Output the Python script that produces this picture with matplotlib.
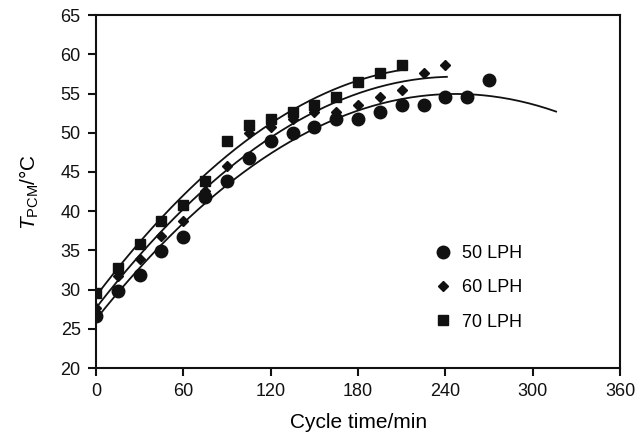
import numpy as np
import matplotlib
matplotlib.use("Agg")
import matplotlib.pyplot as plt

plt.rcParams['font.family'] = ['Liberation Sans', 'DejaVu Sans']
plt.rcParams['mathtext.fontset'] = 'custom'
plt.rcParams['mathtext.rm'] = 'Liberation Sans'
plt.rcParams['mathtext.it'] = 'Liberation Sans:italic'

# Data
t50 = [0, 15, 30, 45, 60, 75, 90, 105, 120, 135, 150, 165, 180, 195, 210, 225, 240, 255, 270]
T50 = [26.7, 29.8, 31.9, 34.9, 36.7, 41.8, 43.9, 46.8, 49.0, 50.0, 50.8, 51.7, 51.7, 52.6, 53.6, 53.6, 54.6, 54.6, 56.7]
t60 = [0, 15, 30, 45, 60, 75, 90, 105, 120, 135, 150, 165, 180, 195, 210, 225, 240]
T60 = [27.7, 31.7, 33.9, 36.9, 38.7, 42.6, 45.8, 50.0, 50.8, 51.8, 52.7, 52.7, 53.5, 54.6, 55.5, 57.6, 58.6]
t70 = [0, 15, 30, 45, 60, 75, 90, 105, 120, 135, 150, 165, 180, 195, 210]
T70 = [29.6, 32.8, 35.8, 38.7, 40.8, 43.8, 48.9, 51.0, 51.7, 52.6, 53.5, 54.5, 56.5, 57.6, 58.6]
fit_end = {'50 LPH': 316, '60 LPH': 241, '70 LPH': 213}
labels = ['50 LPH', '60 LPH', '70 LPH']
xticks = [0, 60, 120, 180, 240, 300, 360]
yticks = [20, 25, 30, 35, 40, 45, 50, 55, 60, 65]

fig = plt.figure(figsize=(6.44, 4.33), dpi=100)
ax = fig.add_axes([0.149, 0.150, 0.814, 0.815])

series = [(t50, T50, 'o', 9.0), (t60, T60, 'D', 5.5), (t70, T70, 's', 7.0)]
for (t, T, m, ms), lab in zip(series, labels):
    c = np.polyfit(t, T, 2)
    xs = np.linspace(0, fit_end[lab], 200)
    ax.plot(xs, np.polyval(c, xs), color='#111111', lw=1.3, zorder=2)
    ax.plot(t, T, ls='none', marker=m, ms=ms, color='#111111', mec='#111111', label=lab, zorder=3)

ax.set_xlim(0, 360)
ax.set_ylim(20, 65)
ax.set_xticks(xticks)
ax.set_yticks(yticks)
ax.tick_params(direction='out', length=5.5, width=1.5, labelsize=13, pad=5.5, colors='#111111')
for s in ax.spines.values():
    s.set_linewidth(1.5)
    s.set_color('#111111')

ax.set_xlabel('Cycle time/min', fontsize=15, labelpad=9)
ax.set_ylabel(r'$T_{\mathrm{PCM}}$/°C', fontsize=15, labelpad=14)

ax.legend(loc='center left', bbox_to_anchor=(0.628, 0.227), frameon=False,
          fontsize=13, numpoints=1, handlelength=1.0, handletextpad=0.55,
          labelspacing=0.95, borderpad=0)

fig.savefig('out.png', dpi=100)
